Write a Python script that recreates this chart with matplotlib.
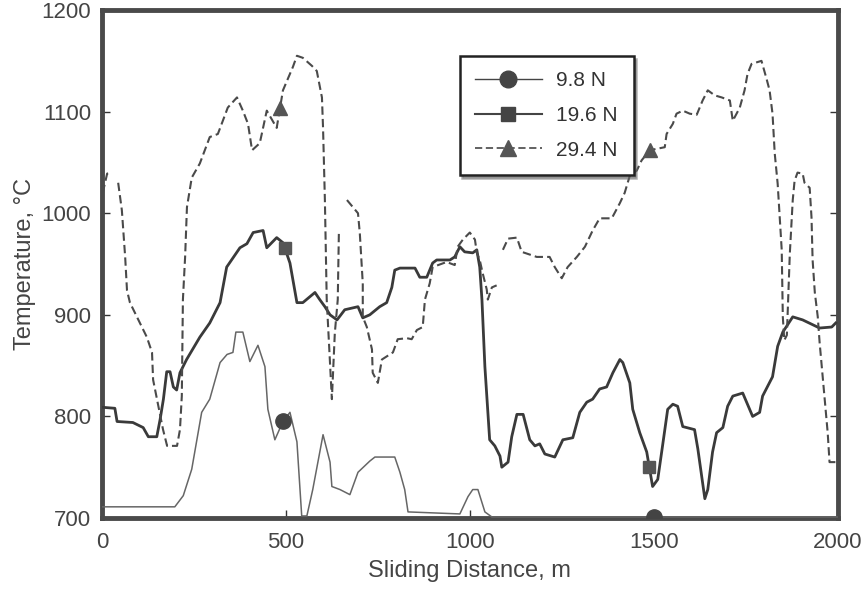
import numpy as np
import matplotlib
matplotlib.use('Agg')
import matplotlib.pyplot as plt

plt.rcParams['font.family'] = ['Liberation Sans', 'DejaVu Sans']

# 9.8 N
x_98 = [0, 198, 221, 244, 258, 271, 293, 321, 340, 356, 364, 383, 402, 424, 443, 451, 470, 492,
        511, 530, 543, 557, 573, 601, 620, 625, 647, 674, 696, 728, 742, 796, 810, 823, 832, 973,
        995, 1008, 1022, 1041, 1060, 2000]
y_98 = [711, 711, 722, 748, 777, 804, 817, 853, 861, 863, 883, 883, 854, 870, 849, 807, 777, 795,
        804, 775, 702, 702, 728, 782, 755, 731, 728, 723, 745, 756, 760, 760, 745, 728, 706, 704,
        721, 728, 728, 706, 701, 701]

# 19.6 N
x_196 = [0, 35, 41, 84, 112, 126, 149, 158, 167, 176, 185, 194, 203, 212, 230, 266, 293, 321,
         339, 375, 394, 411, 438, 448, 475, 492, 511, 530, 546, 579, 592, 606, 620, 639, 660,
         696, 709, 728, 755, 774, 788, 796, 810, 851, 864, 883, 899, 910, 946, 959, 973, 986,
         1008, 1019, 1027, 1033, 1041, 1054, 1068, 1082, 1087, 1104, 1114, 1128, 1145, 1163,
         1177, 1190, 1204, 1231, 1253, 1280, 1299, 1318, 1334, 1353, 1372, 1389, 1408, 1416,
         1435, 1443, 1462, 1481, 1497, 1511, 1524, 1538, 1552, 1565, 1579, 1611, 1620, 1639,
         1647, 1660, 1671, 1688, 1701, 1715, 1742, 1769, 1788, 1796, 1823, 1837, 1851, 1878,
         1905, 1951, 1984, 1995]
y_196 = [809, 808, 795, 794, 789, 780, 780, 797, 817, 844, 844, 829, 826, 843, 856, 878, 892, 912,
         947, 966, 970, 981, 983, 966, 976, 971, 951, 912, 912, 922, 915, 908, 900, 895, 905,
         908, 897, 900, 908, 912, 927, 944, 946, 946, 937, 937, 951, 954, 954, 957, 967, 962,
         961, 964, 947, 915, 849, 777, 771, 761, 750, 755, 780, 802, 802, 777,
         771, 773, 763, 760, 777, 779, 804, 814, 817, 827, 829, 843, 856, 853,
         833, 807, 784, 765, 731, 738, 771, 807, 812, 810, 790, 787, 768, 719,
         728, 765, 784, 789, 810, 820, 823, 800, 804, 820, 839, 869, 883, 898,
         895, 887, 888, 892]

# 29.4 N (gaps in the trace as nan)
x_294 = [2, 14, 27, np.nan, 44, 54, 63, 68, 76, 95, 122, 136, 139, 166, 177, 204, 212, 217, 220,
         226, 231, 244, 266, 293, 315, 342, 367, 383, 397, 408, 429, 448, 475, 492, 519, 530, 546,
         571, 584, 598, 601, 606, 611, 625, 633, 641, 644, np.nan, 666, 696, 701, 709, 709, 720,
         734, 736, 750, 761, 791, 804, 829, 842, 856, 872, 878, 891, 899, 937, 959, 967, 981,
         1000, 1014, 1019, 1027, 1035, 1046, 1049, 1060, 1073, np.nan, 1090, 1104, 1128, 1141,
         1182, 1217, 1231, 1250, 1266, 1291, 1313, 1334, 1353, 1386, 1408, 1421, 1435, 1454,
         1467, 1489, 1530, 1535, 1552, 1562, 1579, 1598, 1617, 1633, 1647, 1666, 1685, 1707,
         1715, 1734, 1747, 1755, 1766, 1793, 1807, 1815, 1823, 1829, 1837, 1848, 1851, 1855,
         1862, 1870, 1878, 1883, 1891, 1905, 1910, 1924, 1929, 1932, 1938, 1946, 1951, 1965,
         1973, 1978, 1995]
y_294 = [1020, 1039, 1040, np.nan, 1030, 1003, 957, 924, 912, 898, 878, 863, 836, 787, 771, 771,
         787, 820, 915, 957, 1006, 1035, 1049, 1075, 1078, 1104, 1114, 1101, 1088, 1062, 1069,
         1101, 1084, 1121, 1144, 1155, 1153, 1145, 1140, 1114, 1084, 1013, 915, 817, 882, 915,
         980, np.nan, 1013, 1000, 980, 931, 898, 888, 866, 843, 833, 856, 863, 876, 877, 876,
         885, 888, 915, 931, 947, 952, 949, 967, 974, 981, 974, 961, 954, 941, 925, 915, 927,
         929, np.nan, 964, 975, 976, 962, 957, 957, 947, 936, 947, 957, 967, 983, 995, 995,
         1010, 1020, 1037, 1042, 1052, 1062, 1065, 1078, 1088, 1098, 1101, 1098, 1097, 1111,
         1121, 1116, 1114, 1111, 1091, 1104, 1121, 1137, 1147, 1150, 1132, 1121, 1098, 1059,
         1029, 964, 898, 875, 880, 960, 1013, 1032, 1040, 1039, 1030, 1025, 996, 954, 922, 898,
         873, 817, 784, 755, 755]

labels = ['9.8 N', '19.6 N', '29.4 N']
# where the symbols sit on each trace
mark_98 = [492, 1500]
mark_196 = [497, 1488]
mark_294 = [484, 1489]

fig = plt.figure(figsize=(8.68, 5.92), dpi=100)
ax = fig.add_axes([0.1175, 0.125, 0.8475, 0.858])

ax.plot(x_98, y_98, color='#666666', lw=1.1, zorder=3)
ax.plot(x_196, y_196, color='#3a3a3a', lw=2.0, zorder=3)
ax.plot(x_294, y_294, color='#4a4a4a', lw=1.5, dashes=(4, 2), zorder=3)

x294 = np.array(x_294)
y294 = np.array(y_294)
ok = ~np.isnan(x294)
ax.plot(mark_98, np.interp(mark_98, x_98, y_98), 'o', color='#444444', ms=11, zorder=4)
ax.plot(mark_196, np.interp(mark_196, x_196, y_196), 's', color='#555555', ms=9, zorder=4)
ax.plot(mark_294, np.interp(mark_294, x294[ok], y294[ok]), '^', color='#555555', ms=10, zorder=4)

h1, = ax.plot([], [], '-o', color='#444444', lw=1.0, ms=12)
h2, = ax.plot([], [], '-s', color='#444444', lw=1.5, ms=10)
h3, = ax.plot([], [], '-^', color='#555555', lw=1.3, ms=11, dashes=(4, 2))
leg = ax.legend([h1, h2, h3], labels, loc='upper left', bbox_to_anchor=(0.486, 0.91),
                fontsize=15, frameon=True, fancybox=False, shadow={'color': '#666666'},
                edgecolor='#222222', handlelength=3.2, handletextpad=0.7, labelspacing=0.75,
                borderpad=0.75, borderaxespad=0)
leg.get_frame().set_linewidth(1.8)
for t in leg.get_texts():
    t.set_color('#333333')

ax.set_xlim(0, 2000)
ax.set_ylim(700, 1200)
ax.set_xticks([0, 500, 1000, 1500, 2000])
ax.set_yticks([700, 800, 900, 1000, 1100, 1200])
ax.tick_params(direction='in', length=6, width=1, labelsize=16, colors='#333333',
               labelcolor='#444444', right=True)
ax.tick_params(axis='x', pad=10)
ax.tick_params(axis='y', pad=8)
for s in ax.spines.values():
    s.set_linewidth(3.5)
    s.set_color('#4a4a4a')

ax.set_xlabel('Sliding Distance, m', fontsize=17, color='#444444', labelpad=5)
ax.set_ylabel('Temperature, °C', fontsize=17, color='#444444', labelpad=4)

fig.savefig('out.png', dpi=100)
